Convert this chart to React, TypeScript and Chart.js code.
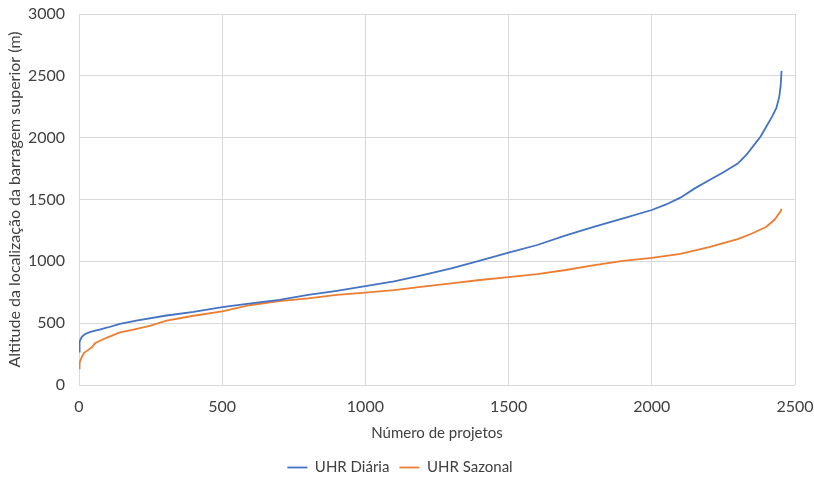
import React, { useEffect, useRef } from "react";
import { Chart, registerables } from "chart.js";

Chart.register(...registerables);

const diariaX = [0, 1, 3, 6, 10, 20, 40, 75, 100, 143, 200, 300, 400, 500, 600, 700, 800, 900, 1000, 1100, 1200, 1300, 1400, 1500, 1600, 1700, 1800, 1900, 2000, 2050, 2100, 2150, 2200, 2250, 2300, 2330, 2360, 2380, 2400, 2420, 2435, 2445, 2450, 2453];
const diariaY = [270, 320, 350, 370, 390, 410, 430, 450, 465, 495, 520, 560, 592, 630, 660, 688, 728, 762, 800, 838, 889, 943, 1005, 1070, 1132, 1210, 1280, 1348, 1415, 1460, 1515, 1590, 1655, 1720, 1790, 1860, 1950, 2010, 2090, 2170, 2240, 2330, 2420, 2540];

const sazonalX = [0, 2, 5, 10, 18, 30, 45, 56, 75, 100, 143, 190, 250, 306, 400, 500, 600, 700, 800, 900, 1000, 1100, 1200, 1300, 1400, 1500, 1600, 1700, 1800, 1900, 2000, 2100, 2200, 2300, 2350, 2400, 2430, 2445, 2450, 2453];
const sazonalY = [135, 175, 200, 230, 260, 280, 305, 337, 360, 385, 425, 448, 480, 520, 560, 595, 647, 679, 701, 728, 747, 768, 795, 822, 849, 873, 897, 930, 970, 1003, 1028, 1060, 1115, 1180, 1225, 1280, 1340, 1390, 1405, 1425];

const seriesNames = ["UHR Diária", "UHR Sazonal"];
const xTitle = "Número de projetos";
const yTitle = "Altitude da localização da barragem superior (m)";

const FONT = "Lato, 'Open Sans', sans-serif";
const TEXT = "#404040";
const GRID = "#d9d9d9";

export default function App() {
  const ref = useRef<HTMLCanvasElement | null>(null);
  useEffect(() => {
    if (!ref.current) return;
    const chart = new Chart(ref.current, {
      type: "line",
      data: {
        datasets: [
          {
            label: seriesNames[0],
            data: diariaX.map((x, i) => ({ x, y: diariaY[i] })),
            borderColor: "#4472C4",
            backgroundColor: "#4472C4",
            borderWidth: 1.8,
            pointRadius: 0,
            tension: 0,
          },
          {
            label: seriesNames[1],
            data: sazonalX.map((x, i) => ({ x, y: sazonalY[i] })),
            borderColor: "#ED7D31",
            backgroundColor: "#ED7D31",
            borderWidth: 1.8,
            pointRadius: 0,
            tension: 0,
          },
        ],
      },
      options: {
        animation: false,
        responsive: false,
        maintainAspectRatio: false,
        layout: { padding: { left: 5, right: 19, top: 14, bottom: -8 } },
        plugins: {
          tooltip: { enabled: false },
          legend: {
            position: "bottom",
            labels: {
              usePointStyle: true,
              pointStyle: "line",
              pointStyleWidth: 20,
              boxWidth: 20,
              padding: 10,
              color: TEXT,
              font: { family: FONT, size: 15 },
            },
          },
        },
        scales: {
          x: {
            type: "linear",
            min: 0,
            max: 2500,
            ticks: { stepSize: 500, padding: 12, color: TEXT, font: { family: FONT, size: 16 }, callback: (v: any) => String(v) },
            grid: { color: GRID, lineWidth: 1, drawTicks: false },
            border: { display: false },
            title: { display: true, text: xTitle, color: TEXT, font: { family: FONT, size: 15 }, padding: { top: 0, bottom: 8 } },
            afterFit: (s: any) => { s.height = 65; s.paddingLeft = 0; s.paddingRight = 0; },
          },
          y: {
            min: 0,
            max: 3000,
            ticks: { stepSize: 500, padding: 14, color: TEXT, font: { family: FONT, size: 16 }, callback: (v: any) => String(v) },
            grid: { color: GRID, lineWidth: 1, drawTicks: false },
            border: { display: false },
            title: { display: true, text: yTitle, color: TEXT, font: { family: FONT, size: 16 }, padding: { top: 0, bottom: 0 } },
            afterFit: (s: any) => { s.width = 74; s.paddingTop = 0; s.paddingBottom = 0; },
          },
        },
      },
    });
    return () => chart.destroy();
  }, []);
  return (
    <div style={{ position: "fixed", left: 0, top: 0, width: 814, height: 477, background: "#fff" }}>
      <canvas ref={ref} width={814} height={477} style={{ width: 814, height: 477 }} />
    </div>
  );
}
